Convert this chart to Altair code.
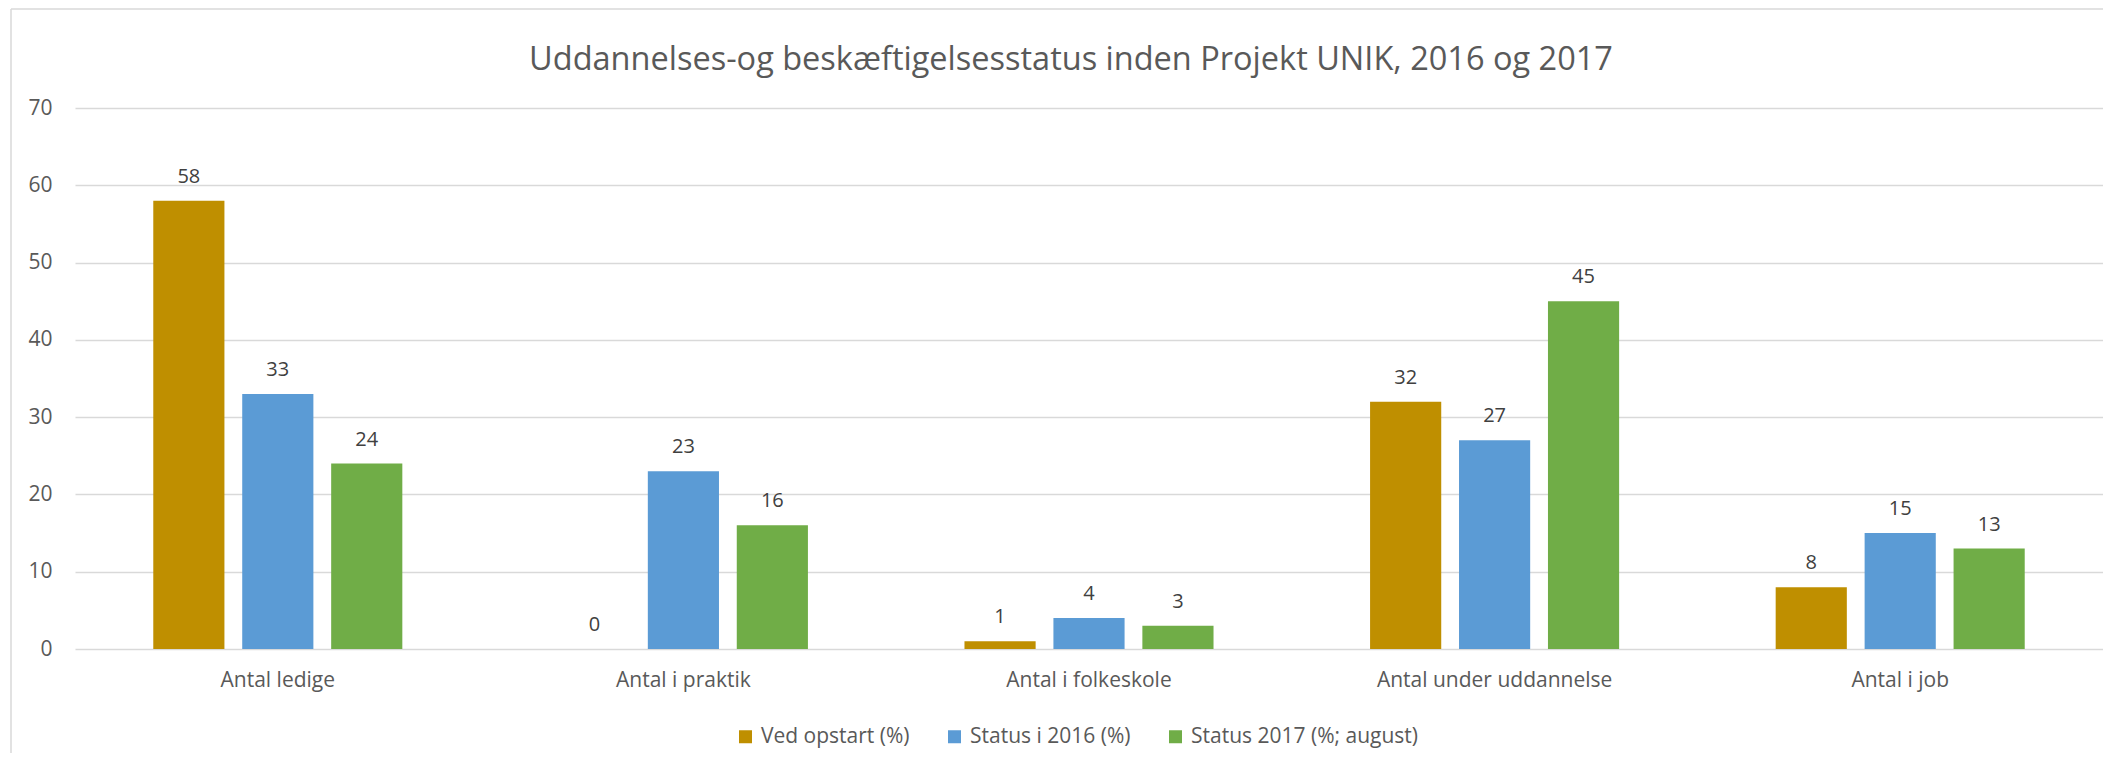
import altair as alt
import pandas as pd

categories = ["Antal ledige", "Antal i praktik", "Antal i folkeskole",
              "Antal under uddannelse", "Antal i job"]
series = ["Ved opstart (%)", "Status i 2016 (%)", "Status 2017 (%; august)"]
ved_opstart = [58, 0, 1, 32, 8]
status_2016 = [33, 23, 4, 27, 15]
status_2017 = [24, 16, 3, 45, 13]
colors = ["#BF8F00", "#5B9BD5", "#70AD47"]
y_ticks = [0, 10, 20, 30, 40, 50, 60, 70]
title_text = "Uddannelses-og beskæftigelsesstatus inden Projekt UNIK, 2016 og 2017"

rows = []
for s, vals in zip(series, [ved_opstart, status_2016, status_2017]):
    for c, v in zip(categories, vals):
        rows.append({"Kategori": c, "Serie": s, "Værdi": v})
df = pd.DataFrame(rows)

FONT = "Open Sans"
W, H = 2028, 541

base = alt.Chart(df).encode(
    x=alt.X("Kategori:N", sort=categories,
            scale=alt.Scale(paddingInner=0, paddingOuter=0),
            axis=alt.Axis(title=None, labelAngle=0, ticks=False, domain=False,
                          labelFontSize=21, labelColor="#595959", labelPadding=20,
                          labelLimit=0)),
    xOffset=alt.XOffset("Serie:N", sort=series,
                        scale=alt.Scale(paddingInner=0.2, paddingOuter=0.88)),
)

bars = base.mark_bar().encode(
    y=alt.Y("Værdi:Q", scale=alt.Scale(domain=[0, 70]),
            axis=alt.Axis(values=y_ticks, title=None, ticks=False, domain=False,
                          grid=True, gridColor="#d9d9d9", gridWidth=1.5,
                          labelFontSize=21, labelColor="#595959", labelPadding=23)),
    color=alt.Color("Serie:N", sort=series,
                    scale=alt.Scale(domain=series, range=colors),
                    legend=alt.Legend(title=None, orient="none", legendX=660, legendY=618,
                                      direction="horizontal", columns=3,
                                      symbolType="square", symbolSize=169,
                                      symbolStrokeWidth=0, labelFontSize=21,
                                      labelColor="#595959", labelOffset=5,
                                      columnPadding=34, labelLimit=0)),
)

labels = base.mark_text(baseline="alphabetic", dy=-18, fontSize=20,
                        color="#404040").encode(
    y=alt.Y("Værdi:Q"),
    text=alt.Text("Værdi:Q"),
)

one = alt.Data(values=[{}])
frame_top = alt.Chart(one).mark_rule(color="#d9d9d9", strokeWidth=1.5).encode(
    x=alt.value(-64), x2=alt.value(2300), y=alt.value(-99))
frame_left = alt.Chart(one).mark_rule(color="#d9d9d9", strokeWidth=1.5).encode(
    x=alt.value(-64), y=alt.value(-99), y2=alt.value(1000))

title = alt.Chart(one).mark_text(text=title_text, fontSize=32.5, color="#595959",
                                 align="center", baseline="alphabetic").encode(
    x=alt.value(996), y=alt.value(-38))

chart = alt.layer(frame_top, frame_left, bars, labels, title).properties(
    width=W, height=H, autosize="none",
    padding={"left": 67, "top": 100, "right": 0, "bottom": 104},
).configure(font=FONT).configure_view(stroke=None)

chart.save("out.html", embed_options={"renderer": "svg", "actions": False})
